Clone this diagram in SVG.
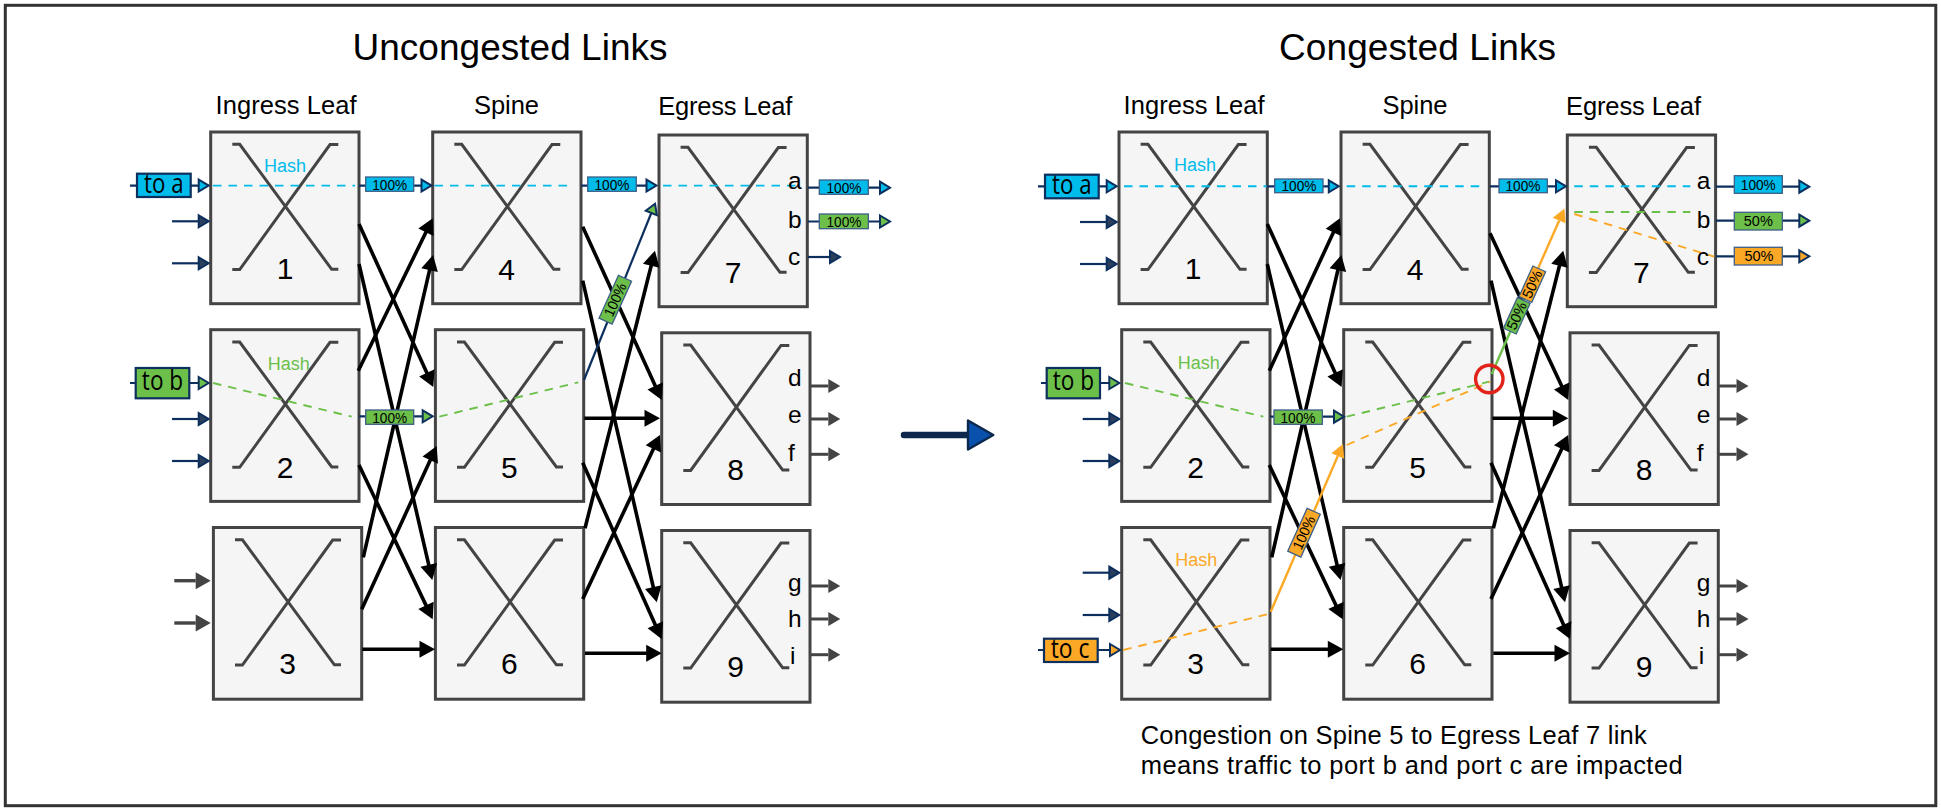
<svg xmlns="http://www.w3.org/2000/svg" width="1941" height="811" viewBox="0 0 1941 811">
<style>
text{font-family:"Liberation Sans",Arial,sans-serif;fill:#000}
.ttl{font-size:37px;text-anchor:middle}
.col{font-size:25.5px;text-anchor:middle}
.num{font-size:30px;text-anchor:middle}
.prt{font-size:24.5px}
.note{font-size:25.5px}
.hash{font-size:18px}
.tag{font-family:"Open Sans","Liberation Sans",sans-serif;font-size:27px;text-anchor:middle}
.pct{font-size:14.5px;text-anchor:middle}
.lbl{stroke:#3d5f87;stroke-width:1.3}
.tagr{stroke:#0d2f5e;stroke-width:2.2}
.b{fill:#00bceb}.g{fill:#6cc04a}.o{fill:#fba826}
.nv{stroke:#0d2f5e;stroke-width:2.2;fill:none}
.nvb{marker-end:url(#mBlue)}.nvg{marker-end:url(#mGreen)}.nvo{marker-end:url(#mOrange)}.nvd{marker-end:url(#mDark)}
.blk{stroke:#000;stroke-width:3.6;fill:none;marker-end:url(#mBlack)}
.gin{stroke:#444;stroke-width:3.4;fill:none;marker-end:url(#mGrayL)}
.gout{stroke:#444;stroke-width:3;fill:none;marker-end:url(#mGrayS)}
.db{stroke:#00bceb;stroke-width:1.9;stroke-dasharray:8.5 7;fill:none}
.dg{stroke:#6cc04a;stroke-width:1.9;stroke-dasharray:8.5 7;fill:none}
.do{stroke:#fba826;stroke-width:1.9;stroke-dasharray:8.5 7;fill:none}
</style>
<defs>
<g id="sw">
<rect x="0" y="0" width="148.3" height="171.7" fill="#f5f5f5" stroke="#444" stroke-width="3"/>
<path d="M21.6 12.3H29L121 137.3H127.6M21.6 137.6H29L119.3 12.6H127.6" fill="none" stroke="#444" stroke-width="3"/>
</g>
<marker id="mBlue" markerUnits="userSpaceOnUse" markerWidth="14" markerHeight="14" refX="1" refY="7" orient="auto" overflow="visible"><path d="M1 1L11 7L1 13Z" fill="#00bceb" stroke="#0d2f5e" stroke-width="2"/></marker>
<marker id="mGreen" markerUnits="userSpaceOnUse" markerWidth="14" markerHeight="14" refX="1" refY="7" orient="auto" overflow="visible"><path d="M1 1L11 7L1 13Z" fill="#6cc04a" stroke="#0d2f5e" stroke-width="2"/></marker>
<marker id="mOrange" markerUnits="userSpaceOnUse" markerWidth="14" markerHeight="14" refX="1" refY="7" orient="auto" overflow="visible"><path d="M1 1L11 7L1 13Z" fill="#fba826" stroke="#0d2f5e" stroke-width="2"/></marker>
<marker id="mDark" markerUnits="userSpaceOnUse" markerWidth="14" markerHeight="14" refX="1" refY="7" orient="auto" overflow="visible"><path d="M1 1L11 7L1 13Z" fill="#2b3f5c" stroke="#0d2f5e" stroke-width="2"/></marker>
<marker id="mBlack" markerUnits="userSpaceOnUse" markerWidth="16" markerHeight="17" refX="9.5" refY="8.5" orient="auto" overflow="visible"><path d="M0 0L15.5 8.5L0 17Z" fill="#000"/></marker>
<marker id="mGrayL" markerUnits="userSpaceOnUse" markerWidth="15" markerHeight="17" refX="0" refY="8.5" orient="auto" overflow="visible"><path d="M0 0L15 8.5L0 17Z" fill="#444"/></marker>
<marker id="mGrayS" markerUnits="userSpaceOnUse" markerWidth="12" markerHeight="14" refX="0" refY="7" orient="auto" overflow="visible"><path d="M0 0L12 7L0 14Z" fill="#444"/></marker>
<marker id="mOrg" markerUnits="userSpaceOnUse" markerWidth="13" markerHeight="14" refX="0" refY="7" orient="auto" overflow="visible"><path d="M0 0L13 7L0 14Z" fill="#fba826"/></marker>
</defs>

<rect x="5.3" y="5.3" width="1930.5" height="800.4" fill="#fff" stroke="#333" stroke-width="3"/>

<g id="titles">
<text class="ttl" x="510" y="59.5" textLength="315">Uncongested Links</text>
<text class="ttl" x="1417.5" y="59.5" textLength="277">Congested Links</text>
<text class="col" x="286" y="113.5" textLength="141">Ingress Leaf</text>
<text class="col" x="506.5" y="114" textLength="65">Spine</text>
<text class="col" x="725.3" y="115" textLength="134">Egress Leaf</text>
<text class="col" x="1194" y="113.5" textLength="141">Ingress Leaf</text>
<text class="col" x="1415" y="114" textLength="65">Spine</text>
<text class="col" x="1633.5" y="115" textLength="135">Egress Leaf</text>
</g>

<g id="left-1"><use href="#sw" transform="translate(210.7 132)"/><text class="num" x="285" y="279">1</text></g>
<g id="left-2"><use href="#sw" transform="translate(210.7 329.7)"/><text class="num" x="285" y="477.5">2</text></g>
<g id="left-3"><use href="#sw" transform="translate(213.4 527.5)"/><text class="num" x="287.5" y="674">3</text></g>
<g id="left-4"><use href="#sw" transform="translate(432.7 132)"/><text class="num" x="506.7" y="279.5">4</text></g>
<g id="left-5"><use href="#sw" transform="translate(435.4 329.7)"/><text class="num" x="509.3" y="477.5">5</text></g>
<g id="left-6"><use href="#sw" transform="translate(435.4 527.5)"/><text class="num" x="509.3" y="674">6</text></g>
<g id="left-7"><use href="#sw" transform="translate(659 135)"/><text class="num" x="733" y="282.5">7</text></g>
<g id="left-8"><use href="#sw" transform="translate(661.7 332.8)"/><text class="num" x="735.5" y="479.5">8</text></g>
<g id="left-9"><use href="#sw" transform="translate(661.7 530.5)"/><text class="num" x="735.5" y="676.5">9</text></g>

<g id="right-1"><use href="#sw" transform="translate(1119 132)"/><text class="num" x="1193" y="279">1</text></g>
<g id="right-2"><use href="#sw" transform="translate(1121.7 329.7)"/><text class="num" x="1195.7" y="477.5">2</text></g>
<g id="right-3"><use href="#sw" transform="translate(1121.7 527.5)"/><text class="num" x="1195.7" y="674">3</text></g>
<g id="right-4"><use href="#sw" transform="translate(1341 132)"/><text class="num" x="1415" y="279.5">4</text></g>
<g id="right-5"><use href="#sw" transform="translate(1343.7 329.7)"/><text class="num" x="1417.7" y="477.5">5</text></g>
<g id="right-6"><use href="#sw" transform="translate(1343.7 527.5)"/><text class="num" x="1417.7" y="674">6</text></g>
<g id="right-7"><use href="#sw" transform="translate(1567.3 135)"/><text class="num" x="1641.3" y="282.5">7</text></g>
<g id="right-8"><use href="#sw" transform="translate(1570 332.8)"/><text class="num" x="1644" y="479.5">8</text></g>
<g id="right-9"><use href="#sw" transform="translate(1570 530.5)"/><text class="num" x="1644" y="676.5">9</text></g>

<g id="connectors">
<!-- left black -->
<path class="blk" d="M359 224L430.8 381.5"/>
<path class="blk" d="M359 264L430.9 574.2"/>
<path class="blk" d="M358.3 370.7L430.1 223.7"/>
<path class="blk" d="M363.3 557.3L431.7 260.9"/>
<path class="blk" d="M359 465L430.1 613.9"/>
<path class="blk" d="M361.7 609.3L434.2 451.5"/>
<path class="blk" d="M362.3 649.3H429"/>
<path class="blk" d="M582.7 226.7L659.2 394.5"/>
<path class="blk" d="M582.7 280.7L655.4 596.4"/>
<path class="blk" d="M585 528.3L653.5 256.5"/>
<path class="blk" d="M584.3 418.3H654"/>
<path class="blk" d="M582.7 599L657.4 440.4"/>
<path class="blk" d="M582.7 462.7L659.2 633.5"/>
<path class="blk" d="M585 653.3H655.7"/>
<!-- right black -->
<path class="blk" d="M1267.3 224L1339.1 381.5"/>
<path class="blk" d="M1267.3 264L1339.2 574.2"/>
<path class="blk" d="M1269.3 370.7L1337.4 223.7"/>
<path class="blk" d="M1271.7 557.3L1340 260.9"/>
<path class="blk" d="M1269.3 465L1340.1 613.9"/>
<path class="blk" d="M1270.6 649.3H1337.3"/>
<path class="blk" d="M1490 233.3L1565.7 394.6"/>
<path class="blk" d="M1491 280.7L1563.7 596.4"/>
<path class="blk" d="M1493.3 528.3L1561.8 256.5"/>
<path class="blk" d="M1492.6 418.3H1562.3"/>
<path class="blk" d="M1491 599L1565.7 440.4"/>
<path class="blk" d="M1491 462.7L1567.5 633.5"/>
<path class="blk" d="M1493.3 653.3H1564"/>

<!-- left inputs -->
<path class="nv nvb" d="M130 185.6H198.7"/>
<path class="nv nvd" d="M172 221.3H198.7"/>
<path class="nv nvd" d="M172 263.3H198.7"/>
<path class="nv nvg" d="M130 383H198.7"/>
<path class="nv nvd" d="M172 419H198.7"/>
<path class="nv nvd" d="M172 461H198.7"/>
<path class="gin" d="M174.3 580.7H195.7"/>
<path class="gin" d="M174.3 623H195.7"/>
<!-- left data path -->
<path class="nv nvb" d="M359 185.6H421.5"/>
<path class="nv nvb" d="M581 185.6H646.5"/>
<path class="nv nvg" d="M359 416.3H422.7"/>
<path class="nv nvg" stroke-width="1.8" d="M584 380L651.3 213"/>
<path class="db" d="M213 185.6H355"/>
<path class="db" d="M434.5 185.6H573"/>
<path class="db" d="M663 185.6H801.7"/>
<path class="dg" d="M213 383L351.7 416.7"/>
<path class="dg" d="M439.3 416.7L578.3 382.3"/>
<!-- left outputs -->
<path class="nv nvb" d="M808 187.7H880"/>
<path class="nv nvg" d="M808 221.5H880"/>
<path class="nv nvd" d="M808 257H830"/>
<path class="gout" d="M810 386H828.3"/>
<path class="gout" d="M810 419H828.3"/>
<path class="gout" d="M810 454.3H828.3"/>
<path class="gout" d="M810 586H828.3"/>
<path class="gout" d="M810 619H828.3"/>
<path class="gout" d="M810 654.7H828.3"/>

<!-- right inputs -->
<path class="nv nvb" d="M1038 186.3H1106.7"/>
<path class="nv nvd" d="M1080 222H1106.7"/>
<path class="nv nvd" d="M1080 264H1106.7"/>
<path class="nv nvg" d="M1041 383H1109.3"/>
<path class="nv nvd" d="M1082.7 419H1109.3"/>
<path class="nv nvd" d="M1082.7 461H1109.3"/>
<path class="nv nvd" d="M1082.7 572.7H1109.3"/>
<path class="nv nvd" d="M1082.7 615H1109.3"/>
<path class="nv nvo" d="M1038 650H1110"/>
<!-- right data path -->
<path class="nv nvb" d="M1267.3 186.3H1328.8"/>
<path class="nv nvb" d="M1490 186.3H1556"/>
<path class="nv nvg" d="M1270 416.7H1334"/>
<path class="db" d="M1124 186.3H1266.7"/>
<path class="db" d="M1346.7 186.3H1484.3"/>
<path class="db" d="M1574.3 186.3H1690.3"/>
<path class="dg" d="M1125 383L1263.3 416.7"/>
<path class="dg" d="M1346.7 416.7L1489 381.7"/>
<path class="dg" d="M1574.3 212H1690.3"/>
<path class="do" d="M1123.3 650L1268.3 614"/>
<path class="do" d="M1346.7 445L1490 381.8"/>
<path class="do" d="M1574.3 214L1714.3 256.7"/>
<path d="M1270.7 611.7L1337.8 456" stroke="#fba826" stroke-width="2.4" fill="none" marker-end="url(#mOrg)"/>
<path d="M1491.7 374L1525 298" stroke="#6cc04a" stroke-width="2.4" fill="none"/>
<path d="M1525 298L1559.2 220.5" stroke="#fba826" stroke-width="2.4" fill="none" marker-end="url(#mOrg)"/>
<!-- right outputs -->
<path class="nv nvb" d="M1716 186.7H1799.3"/>
<path class="nv nvg" d="M1716 220.7H1799.3"/>
<path class="nv nvo" d="M1716 256.3H1799.3"/>
<path class="gout" d="M1718 386H1736.5"/>
<path class="gout" d="M1718 419H1736.5"/>
<path class="gout" d="M1718 454.3H1736.5"/>
<path class="gout" d="M1718 586H1736.5"/>
<path class="gout" d="M1718 619H1736.5"/>
<path class="gout" d="M1718 654.7H1736.5"/>
<!-- panel arrow -->
<path d="M904 435H968" stroke="#0d274d" stroke-width="6.5" stroke-linecap="round" fill="none"/>
<path d="M968 420.5L993.3 435L968 449.5Z" fill="#0a50ad" stroke="#0d274d" stroke-width="2.4" stroke-linejoin="round"/>
</g>

<g id="tags">
<g><rect class="tagr b" x="137" y="173.7" width="53.7" height="23.3"/><text class="tag" x="163.8" y="192.7" textLength="39.5" lengthAdjust="spacingAndGlyphs">to a</text></g>
<g><rect class="tagr g" x="135.7" y="368" width="53.6" height="30.3"/><text class="tag" x="162.5" y="390" textLength="41.3" lengthAdjust="spacingAndGlyphs">to b</text></g>
<g><rect class="tagr b" x="1045" y="174.7" width="53.7" height="23.6"/><text class="tag" x="1071.8" y="193.5" textLength="39.5" lengthAdjust="spacingAndGlyphs">to a</text></g>
<g><rect class="tagr g" x="1046.7" y="368" width="53.3" height="30.3"/><text class="tag" x="1073.3" y="390" textLength="41.3" lengthAdjust="spacingAndGlyphs">to b</text></g>
<g><rect class="tagr o" x="1044" y="638.7" width="53.7" height="23.3"/><text class="tag" x="1070" y="658.3" textLength="38.7" lengthAdjust="spacingAndGlyphs">to c</text></g>
</g>

<g id="labels">
<g><rect class="lbl b" x="365.7" y="177" width="48" height="14.3"/><text class="pct" x="389.7" y="189.5" textLength="35" lengthAdjust="spacingAndGlyphs">100%</text></g>
<g><rect class="lbl b" x="587.7" y="177" width="48.6" height="14.3"/><text class="pct" x="612" y="189.5" textLength="35" lengthAdjust="spacingAndGlyphs">100%</text></g>
<g><rect class="lbl g" x="365.7" y="410" width="48" height="14.3"/><text class="pct" x="389.7" y="422.5" textLength="35" lengthAdjust="spacingAndGlyphs">100%</text></g>
<g><rect class="lbl b" x="819.3" y="180" width="49" height="14.3"/><text class="pct" x="844" y="192.5" textLength="35" lengthAdjust="spacingAndGlyphs">100%</text></g>
<g><rect class="lbl g" x="819.3" y="214" width="49" height="14.7"/><text class="pct" x="844" y="226.5" textLength="35" lengthAdjust="spacingAndGlyphs">100%</text></g>
<g transform="translate(615.3 299.7) rotate(-65.6)"><rect class="lbl g" x="-23.5" y="-7.2" width="47" height="14.4"/><text class="pct" x="0" y="5" textLength="35" lengthAdjust="spacingAndGlyphs">100%</text></g>

<g><rect class="lbl b" x="1274.7" y="179" width="48.3" height="13.7"/><text class="pct" x="1299" y="191" textLength="35" lengthAdjust="spacingAndGlyphs">100%</text></g>
<g><rect class="lbl b" x="1499" y="179" width="48.3" height="13.7"/><text class="pct" x="1523" y="191" textLength="35" lengthAdjust="spacingAndGlyphs">100%</text></g>
<g><rect class="lbl g" x="1274" y="410" width="48.3" height="14.3"/><text class="pct" x="1298" y="422.5" textLength="35" lengthAdjust="spacingAndGlyphs">100%</text></g>
<g><rect class="lbl b" x="1734.3" y="175.7" width="48" height="17.6"/><text class="pct" x="1758.3" y="189.5" textLength="35" lengthAdjust="spacingAndGlyphs">100%</text></g>
<g><rect class="lbl g" x="1734.3" y="212.3" width="48" height="17.7"/><text class="pct" x="1758.3" y="226.3">50%</text></g>
<g><rect class="lbl o" x="1734.3" y="247.3" width="48" height="17.7"/><text class="pct" x="1759" y="261.3">50%</text></g>
<g transform="translate(1304 532.7) rotate(-65.6)"><rect class="lbl o" x="-23.5" y="-7.2" width="47" height="14.4"/><text class="pct" x="0" y="5" textLength="35" lengthAdjust="spacingAndGlyphs">100%</text></g>
<g transform="translate(1516.8 315.8) rotate(-65.6)"><rect class="lbl g" x="-16.8" y="-7" width="33.6" height="14"/><text class="pct" x="0" y="5">50%</text></g>
<g transform="translate(1532.3 284.2) rotate(-65.6)"><rect class="lbl o" x="-16.8" y="-7" width="33.6" height="14"/><text class="pct" x="0" y="5">50%</text></g>
</g>

<g id="ports">
<text class="hash" style="fill:#00bceb" x="264" y="171.7">Hash</text>
<text class="hash" style="fill:#6cc04a" x="267.7" y="370">Hash</text>
<text class="hash" style="fill:#00bceb" x="1174" y="170.7">Hash</text>
<text class="hash" style="fill:#6cc04a" x="1177.7" y="369">Hash</text>
<text class="hash" style="fill:#fba826" x="1175.3" y="566">Hash</text>

<text class="prt" x="788" y="189.3">a</text><text class="prt" x="788" y="227.7">b</text><text class="prt" x="788" y="265.3">c</text>
<text class="prt" x="788" y="385.7">d</text><text class="prt" x="788" y="422.7">e</text><text class="prt" x="788" y="461">f</text>
<text class="prt" x="788" y="590.7">g</text><text class="prt" x="788" y="626.7">h</text><text class="prt" x="790" y="664.3">i</text>
<text class="prt" x="1696.7" y="189.3">a</text><text class="prt" x="1696.7" y="227.7">b</text><text class="prt" x="1696.7" y="265.3">c</text>
<text class="prt" x="1696.7" y="385.7">d</text><text class="prt" x="1696.7" y="422.7">e</text><text class="prt" x="1696.7" y="461">f</text>
<text class="prt" x="1696.7" y="590.7">g</text><text class="prt" x="1696.7" y="626.7">h</text><text class="prt" x="1698.7" y="664.3">i</text>
</g>

<circle id="congestion" cx="1489.3" cy="379" r="13.7" fill="none" stroke="#e2231a" stroke-width="3.4"/>

<g id="note">
<text class="note" x="1140.7" y="744.3" textLength="506">Congestion on Spine 5 to Egress Leaf 7 link</text>
<text class="note" x="1140.7" y="774.3" textLength="542">means traffic to port b and port c are impacted</text>
</g>
</svg>
